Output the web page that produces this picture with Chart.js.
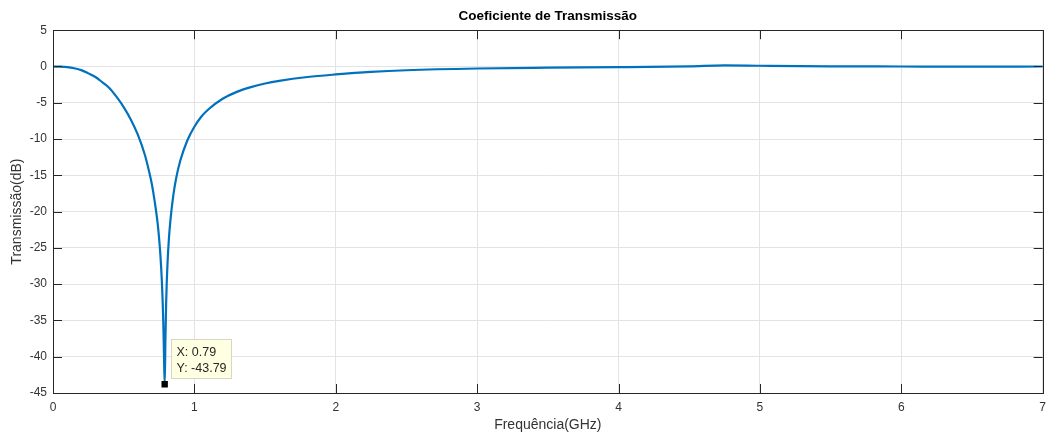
<!DOCTYPE html>
<html lang="pt">
<head>
<meta charset="utf-8">
<title>Coeficiente de Transmissão</title>
<script src="https://cdn.jsdelivr.net/npm/chart.js@4.4.1/dist/chart.umd.min.js"></script>
<style>
  html, body { margin: 0; padding: 0; background: #fff; }
  #grafico { width: 1053px; height: 435px; }
</style>
</head>
<body>
<div id="grafico"><canvas id="canvas"></canvas></div>
<script>
// valores
const frequencias = [0, 0.05, 0.1, 0.15, 0.2, 0.25, 0.3, 0.35, 0.4, 0.45, 0.5, 0.55, 0.6, 0.65, 0.68, 0.7, 0.72, 0.74, 0.75, 0.76,
    0.77, 0.775, 0.78, 0.785, 0.79, 0.795, 0.8, 0.805, 0.81, 0.82, 0.83, 0.85, 0.87, 0.9, 0.95, 1.0, 1.05, 1.1, 1.2, 1.3,
    1.4, 1.5, 1.6, 1.8, 2.0, 2.25, 2.5, 3.0, 3.5, 4.0, 4.5, 4.75, 5.0, 5.5, 6.0, 6.5, 7.0];
const transmissao = [0, -0.03, -0.1, -0.25, -0.5, -0.95, -1.45, -2.2, -3.0, -4.2, -5.6, -7.3, -9.4, -12.2, -14.5, -16.3, -18.7, -21.6, -23.6, -26.1,
    -29.6, -32.0, -35.2, -39.7, -43.79, -37.9, -32.8, -29.5, -27.1, -23.7, -21.3, -17.9, -15.5, -13.0, -10.2, -8.3, -6.9, -5.9, -4.45, -3.5,
    -2.85, -2.35, -1.98, -1.45, -1.1, -0.75, -0.52, -0.28, -0.17, -0.1, 0.02, 0.15, 0.1, 0.02, 0.0, -0.02, 0.0];

const marcadorX = [0.79];
const marcadorY = [-43.79];

const ticksX = [0, 1, 2, 3, 4, 5, 6, 7];
const ticksY = [5, 0, -5, -10, -15, -20, -25, -30, -35, -40, -45];

const corEixo = '#262626';
const fonte = '"Liberation Sans", Arial, Helvetica, sans-serif';

// caixa do eixo (box on) com ticks para dentro, como no MATLAB
const moldura = {
    id: 'moldura',
    afterDatasetsDraw(chart) {
        const { ctx, chartArea: a, scales } = chart;
        const tam = 9;
        ctx.save();
        ctx.strokeStyle = corEixo;
        ctx.lineWidth = 1;
        ctx.beginPath();
        ticksX.forEach(v => {
            const x = Math.round(scales.x.getPixelForValue(v)) + 0.5;
            ctx.moveTo(x, a.bottom); ctx.lineTo(x, a.bottom - tam);
            ctx.moveTo(x, a.top); ctx.lineTo(x, a.top + tam);
        });
        ticksY.forEach(v => {
            const y = Math.round(scales.y.getPixelForValue(v)) + 0.5;
            ctx.moveTo(a.left, y); ctx.lineTo(a.left + tam, y);
            ctx.moveTo(a.right, y); ctx.lineTo(a.right - tam, y);
        });
        ctx.stroke();
        ctx.strokeRect(Math.round(a.left) + 0.5, Math.round(a.top) + 0.5,
            Math.round(a.right - a.left), Math.round(a.bottom - a.top));

        // data tip junto ao marcador
        const px = scales.x.getPixelForValue(marcadorX[0]);
        const py = scales.y.getPixelForValue(marcadorY[0]);
        const bx = Math.round(px + 6) + 0.5;
        const by = Math.round(py - 45) + 0.5;
        const linhas = ['X: ' + marcadorX[0].toFixed(2), 'Y: ' + marcadorY[0].toFixed(2)];
        ctx.font = '12.5px ' + fonte;
        const larg = Math.max(...linhas.map(t => ctx.measureText(t).width)) + 10;
        ctx.fillStyle = '#ffffe1';
        ctx.fillRect(bx, by, larg, 39);
        ctx.strokeStyle = '#d6d6c8';
        ctx.strokeRect(bx, by, larg, 39);
        ctx.fillStyle = corEixo;
        ctx.textBaseline = 'middle';
        ctx.fillText(linhas[0], bx + 5, by + 13);
        ctx.fillText(linhas[1], bx + 5, by + 29);
        ctx.restore();
    }
};

const ctx = document.getElementById('canvas').getContext('2d');

new Chart(ctx, {
    type: 'line',
    data: {
        datasets: [{
            data: marcadorX.map((x, i) => ({ x: x, y: marcadorY[i] })),
            showLine: false,
            pointStyle: 'rect',
            pointRadius: 4.5,
            pointBackgroundColor: '#000',
            pointBorderColor: '#000',
            borderWidth: 0,
            order: 0
        }, {
            label: 'Transmissão',
            data: frequencias.map((f, i) => ({ x: f, y: transmissao[i] })),
            borderColor: '#0072BD',
            borderWidth: 2.2,
            pointRadius: 0,
            cubicInterpolationMode: 'monotone',
            fill: false,
            order: 1
        }]
    },
    options: {
        responsive: true,
        maintainAspectRatio: false,
        animation: false,
        layout: { padding: { right: 4 } },
        plugins: {
            legend: { display: false },
            tooltip: { enabled: false },
            title: {
                display: true,
                text: 'Coeficiente de Transmissão',
                fullSize: false,
                color: '#000',
                font: { family: fonte, size: 13.5, weight: 'bold' },
                padding: { top: 8, bottom: 6 }
            }
        },
        scales: {
            x: {
                type: 'linear',
                min: 0,
                max: 7,
                afterFit: s => { s.height = 42; },
                afterBuildTicks: s => { s.ticks = ticksX.map(v => ({ value: v })); },
                grid: { color: '#e3e3e3', drawTicks: false },
                border: { color: corEixo },
                ticks: { color: '#333', padding: 7, maxRotation: 0, font: { family: fonte, size: 12 } },
                title: {
                    display: true,
                    text: 'Frequência(GHz)',
                    color: '#333',
                    font: { family: fonte, size: 14 },
                    padding: { top: 0, bottom: 1 }
                }
            },
            y: {
                min: -45,
                max: 5,
                afterFit: s => { s.width = 53; },
                afterBuildTicks: s => { s.ticks = ticksY.map(v => ({ value: v })); },
                grid: { color: '#e3e3e3', drawTicks: false },
                border: { color: corEixo },
                ticks: { color: '#333', padding: 6, font: { family: fonte, size: 12 } },
                title: {
                    display: true,
                    text: 'Transmissão(dB)',
                    color: '#333',
                    font: { family: fonte, size: 14 },
                    padding: { top: 9, bottom: 0 }
                }
            }
        }
    },
    plugins: [moldura]
});
</script>
</body>
</html>
